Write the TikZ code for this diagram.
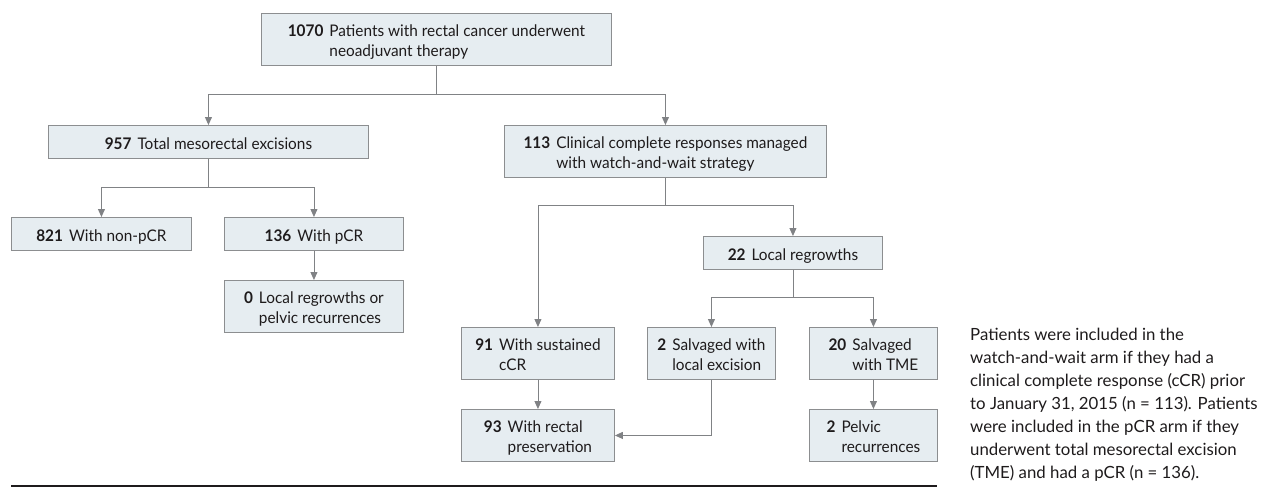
\documentclass[tikz,border=0pt]{standalone}
\usepackage{fontspec}
\setmainfont{Lato}
\newfontfamily\boxfont[FakeStretch=0.96]{Lato}
\usepackage{tikz}
\usetikzlibrary{positioning}
\usetikzlibrary{calc}
\usetikzlibrary{arrows.meta}

\definecolor{boxfill}{HTML}{E6EDF1}
\definecolor{boxedge}{HTML}{8C8E90}
\definecolor{linkgray}{HTML}{808285}
\definecolor{inktext}{HTML}{1E1B1C}

\newcommand{\countlabel}[2]{\raisebox{-3pt}[\height][\depth]{\textbf{#1}\hspace{6pt}\begin{tabular}[t]{@{}l@{}}#2\end{tabular}}}

\tikzset{
	flowbox/.style={
		draw=boxedge,
		fill=boxfill,
		line width=0.9pt,
		anchor=north west,
		inner sep=2pt,
		text=inktext,
		font=\boxfont\fontsize{16}{20.5}\selectfont
	},
	link/.style={
		draw=linkgray,
		line width=0.9pt,
		-{Triangle[length=8pt, width=7pt]}
	},
	plainline/.style={
		draw=linkgray,
		line width=0.9pt
	}
}

\begin{document}
\begin{tikzpicture}[x=1pt, y=-1pt]
\useasboundingbox (0,0) rectangle (1265,490);

\node[flowbox, minimum width=350, minimum height=52] (total) at (261,13)
	{\countlabel{1070}{Patients with rectal cancer underwent\\neoadjuvant therapy}};

\node[flowbox, minimum width=320, minimum height=33] (tme) at (48,125)
	{\countlabel{957}{Total mesorectal excisions}};

\node[flowbox, minimum width=322, minimum height=52] (watch) at (504,125)
	{\countlabel{113}{Clinical complete responses managed\\with watch-and-wait strategy}};

\node[flowbox, minimum width=180, minimum height=33] (nonpcr) at (11,217)
	{\countlabel{821}{With non-pCR}};

\node[flowbox, minimum width=179, minimum height=33] (pcr) at (224,217)
	{\countlabel{136}{With pCR}};

\node[flowbox, minimum width=179, minimum height=52] (nonelocal) at (224,280)
	{\countlabel{0}{Local regrowths or\\pelvic recurrences}};

\node[flowbox, minimum width=179, minimum height=33] (regrowth) at (703,236)
	{\countlabel{22}{Local regrowths}};

\node[flowbox, minimum width=153, minimum height=52] (sustained) at (461,327)
	{\countlabel{91}{With sustained\\cCR}};

\node[flowbox, minimum width=128, minimum height=52] (salvlocal) at (647,327)
	{\countlabel{2}{Salvaged with\\local excision}};

\node[flowbox, minimum width=128, minimum height=52] (salvtme) at (809,327)
	{\countlabel{20}{Salvaged\\with TME}};

\node[flowbox, minimum width=153, minimum height=52] (preserv) at (461,409)
	{\countlabel{93}{With rectal\\preservation}};

\node[flowbox, minimum width=128, minimum height=52] (pelvic) at (809,409)
	{\countlabel{2}{Pelvic\\recurrences}};

\node[anchor=north west, inner sep=0pt, align=left, text=inktext,
	font=\fontsize{16.8}{23}\selectfont] (note) at (970,328)
	{Patients were included in the\\
	watch-and-wait arm if they had a\\
	clinical complete response (cCR) prior\\
	to January 31, 2015 (n = 113). Patients\\
	were included in the pCR arm if they\\
	underwent total mesorectal excision\\
	(TME) and had a pCR (n = 136).};

% ---

\draw[plainline] (total.south) -- ++(0,29) coordinate (split1);
\draw[link] (split1) -| (tme.north);
\draw[link] (split1) -| (watch.north);

% ---

\draw[plainline] (tme.south) -- ++(0,29) coordinate (split2);
\draw[link] (split2) -| (nonpcr.north);
\draw[link] (split2) -| (pcr.north);
\draw[link] (pcr.south) -- (nonelocal.north);

% ---

\draw[plainline] (watch.south) -- ++(0,28) coordinate (split3);
\draw[link] (split3) -| (sustained.north);
\draw[link] (split3) -| (regrowth.north);

\draw[plainline] (regrowth.south) -- ++(0,28) coordinate (split4);
\draw[link] (split4) -| (salvlocal.north);
\draw[link] (split4) -| (salvtme.north);

% ---

\draw[link] (sustained.south) -- (preserv.north);
\draw[link] (salvlocal.south) |- (preserv.east);
\draw[link] (salvtme.south) -- (pelvic.north);

% ---

\draw[inktext, line width=1.8pt] (11,486) -- (937,486);

\end{tikzpicture}
\end{document}
